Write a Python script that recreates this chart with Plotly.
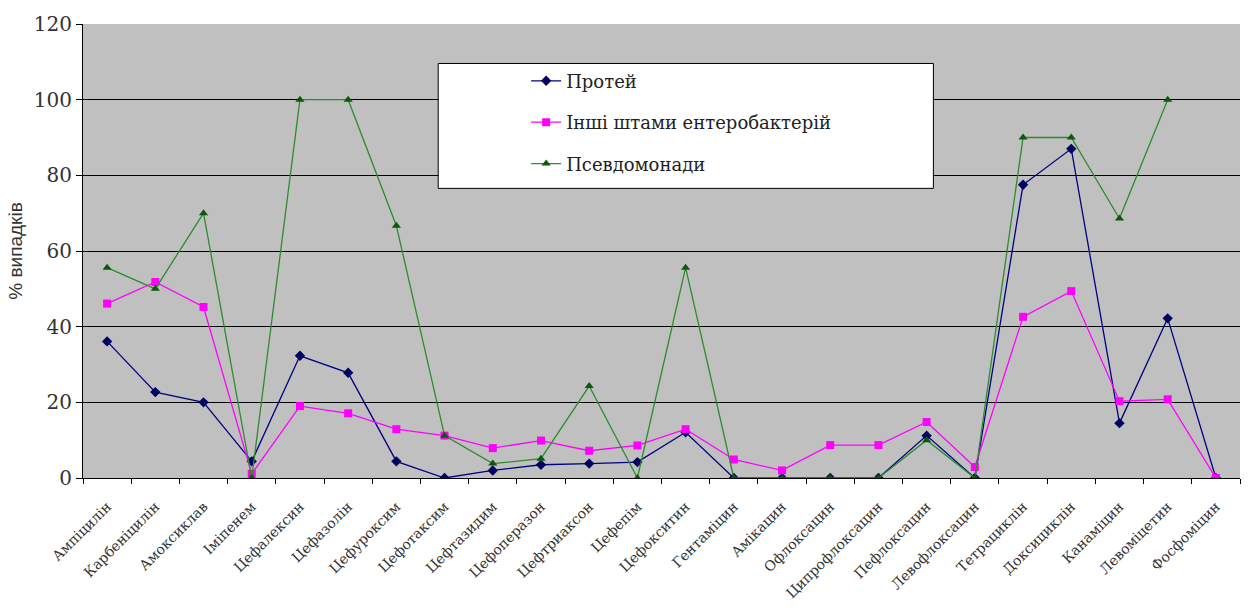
import plotly.graph_objects as go

categories = ["Ампіцилін", "Карбеніцилін", "Амоксиклав", "Іміпенем", "Цефалексин", "Цефазолін",
              "Цефуроксим", "Цефотаксим", "Цефтазидим", "Цефоперазон", "Цефтриаксон", "Цефепім",
              "Цефокситин", "Гентаміцин", "Амікацин", "Офлоксацин", "Ципрофлоксацин", "Пефлоксацин",
              "Левофлоксацин", "Тетрациклін", "Доксициклін", "Канаміцин", "Левоміцетин", "Фосфоміцин"]

proteus = [36.1, 22.7, 20.0, 4.4, 32.3, 27.8, 4.4, 0.0, 2.0, 3.5, 3.8, 4.2,
           12.1, 0.0, 0.0, 0.0, 0.0, 11.2, 0.0, 77.5, 87.0, 14.5, 42.2, 0.0]
other_entero = [46.1, 51.8, 45.2, 1.1, 19.0, 17.1, 12.9, 11.2, 7.9, 9.9, 7.2, 8.6,
                12.9, 4.9, 2.0, 8.7, 8.7, 14.8, 2.9, 42.6, 49.4, 20.3, 20.8, 0.0]
pseudomonas = [55.6, 50.0, 70.0, 0.0, 100.0, 100.0, 66.7, 11.2, 3.8, 5.1, 24.3, 0.0,
               55.6, 0.0, 0.0, 0.0, 0.0, 10.0, 0.0, 90.0, 90.0, 68.6, 100.0, None]

series_names = ["Протей", "Інші штами ентеробактерій", "Псевдомонади"]
y_ticks = [0, 20, 40, 60, 80, 100, 120]

serif = "'DejaVu Serif', serif"

fig = go.Figure()
fig.add_trace(go.Scatter(x=categories, y=proteus, name=series_names[0], mode="lines+markers",
                         line=dict(color="#000080", width=1.3),
                         marker=dict(symbol="diamond", size=8, color="#000060"),
                         legendgroup="a"))
fig.add_trace(go.Scatter(x=categories, y=other_entero, name=series_names[1], mode="lines+markers",
                         line=dict(color="#FF00FF", width=1.3),
                         marker=dict(symbol="square", size=8, color="#FF00FF"),
                         legendgroup="b"))
fig.add_trace(go.Scatter(x=categories, y=pseudomonas, name=series_names[2], mode="lines+markers",
                         line=dict(color="#2E8B2E", width=1.3),
                         marker=dict(symbol="triangle-up", size=8, color="#0A5A0A"),
                         legendgroup="c"))

fig.update_layout(
    width=1254, height=611,
    margin=dict(l=83, r=14, t=20, b=133),
    paper_bgcolor="white",
    plot_bgcolor="#C0C0C0",
    font=dict(family=serif),
    showlegend=True,
    legend=dict(x=0.383, y=0.915, xanchor="left", yanchor="top",
                bgcolor="rgba(0,0,0,0)", borderwidth=0,
                font=dict(family=serif, size=18, color="#222222"),
                tracegroupgap=15, itemwidth=30),
    xaxis=dict(type="category", tickson="boundaries", ticks="outside", ticklen=5,
               tickcolor="black", showline=True, linecolor="black", linewidth=1,
               showgrid=False, tickangle=-45, ticklabelstandoff=14, automargin=False,
               tickfont=dict(family=serif, size=14, color="#333333"),
               range=[-0.5, len(categories) - 0.5]),
    yaxis=dict(range=[0, 120], tickvals=y_ticks, ticks="outside", ticklen=6,
               tickcolor="black", showline=True, linecolor="black", linewidth=1,
               showgrid=True, gridcolor="black", gridwidth=1, zeroline=False,
               tickfont=dict(family=serif, size=20, color="#333333"),
               title=dict(text="% випадків", font=dict(family="'Liberation Sans', Arial, sans-serif",
                                                        size=19, color="#333333"), standoff=6)),
    shapes=[dict(type="rect", xref="paper", yref="paper", x0=0.307, x1=0.735, y0=0.638, y1=0.913,
                 fillcolor="white", line=dict(color="black", width=1), layer="above")],
)

fig.write_html("out.html")
